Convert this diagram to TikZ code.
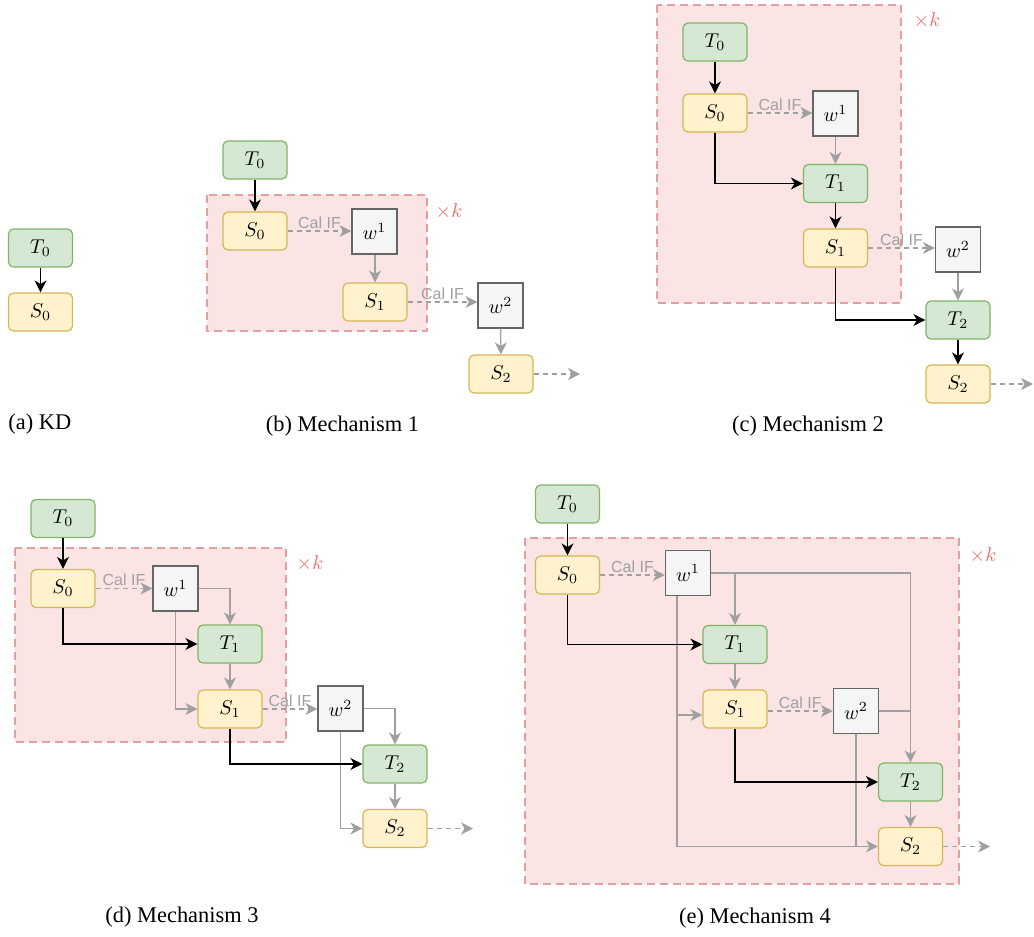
\documentclass[tikz,border=0pt]{standalone}
\usepackage{fontspec}
\setmainfont{Liberation Serif}
\setsansfont{Liberation Sans}
\usetikzlibrary{arrows.meta}
\definecolor{tfill}{HTML}{D5E8D4}
\definecolor{tline}{HTML}{82B366}
\definecolor{sfill}{HTML}{FFF2CC}
\definecolor{sline}{HTML}{D6B656}
\definecolor{wfill}{HTML}{F5F5F5}
\definecolor{wline}{HTML}{666666}
\definecolor{rfill}{HTML}{FAE4E4}
\definecolor{rline}{HTML}{E3A0A0}
\definecolor{kred}{HTML}{EA6B66}
\definecolor{arr}{HTML}{A0A0A0}
\tikzset{
  tbox/.style={draw=tline, fill=tfill, rounded corners=2.5pt, minimum width=32pt, minimum height=19pt, line width=0.6pt, inner sep=0pt, font=\fontsize{10}{11}\selectfont},
  sbox/.style={tbox, draw=sline, fill=sfill},
  wbox/.style={draw=wline, fill=wfill, minimum size=22.5pt, line width=0.6pt, inner sep=0pt, font=\fontsize{10}{11}\selectfont},
  loopregion/.style={draw=rline, fill=rfill, dash pattern=on 4pt off 2.5pt, line width=0.6pt},
  arrowtip/.style={-{Stealth[length=6pt,width=6pt,inset=1.8pt]}},
  blk/.style={arrowtip, line width=0.75pt},
  gry/.style={arrowtip, draw=arr, line width=0.65pt},
  gln/.style={draw=arr, line width=0.65pt},
  dsh/.style={gry, dash pattern=on 2.5pt off 2pt},
  calif/.style={midway, above, inner sep=1pt, text=arr, font=\sffamily\fontsize{8}{9}\selectfont},
  timesk/.style={text=kred, font=\fontsize{10}{11}\selectfont},
  captext/.style={inner sep=0pt, font=\fontsize{11.2}{13}\selectfont}
}
\begin{document}
\begin{tikzpicture}[x=0.5pt,y=-0.5pt]
  \useasboundingbox (0,0) rectangle (1034,937);

  % (a) KD
  \node[tbox] (aT0) at (40.5,248) {$T_0$};
  \node[sbox] (aS0) at (40.5,312) {$S_0$};
  \draw[blk] (aT0) -- (aS0);
  \node[captext,anchor=west] (acap) at (8,424) {(a) KD};

  % (b) Mechanism 1
  \draw[loopregion] (207,195) rectangle (427,331);
  \node[tbox] (bT0) at (255,160) {$T_0$};
  \node[sbox] (bS0) at (255,231) {$S_0$};
  \node[wbox] (bw1) at (374.5,231.5) {$w^1$};
  \node[sbox] (bS1) at (375,302) {$S_1$};
  \node[wbox] (bw2) at (500.5,305.5) {$w^2$};
  \node[sbox] (bS2) at (501,374) {$S_2$};
  \coordinate (bout) at (580,374);
  \node[timesk] (bk) at (449,211) {$\times k$};
  \draw[blk] (bT0) -- (bS0);
  \draw[dsh] (bS0.east) -- (bS0.east -| bw1.west) node[calif] {Cal IF};
  \draw[gry] (bw1.south -| bS1.north) -- (bS1.north);
  \draw[dsh] (bS1.east) -- (bS1.east -| bw2.west) node[calif] {Cal IF};
  \draw[gry] (bw2) -- (bS2);
  \draw[dsh] (bS2.east) -- (bout);
  \node[captext] (bcap) at (342.5,426) {(b) Mechanism 1};

  % (c) Mechanism 2
  \draw[loopregion] (657,5) rectangle (901,303);
  \node[tbox] (cT0) at (715,42) {$T_0$};
  \node[sbox] (cS0) at (715,113) {$S_0$};
  \node[wbox] (cw1) at (835.5,113.5) {$w^1$};
  \node[tbox] (cT1) at (835.5,183.5) {$T_1$};
  \node[sbox] (cS1) at (835.5,248) {$S_1$};
  \node[wbox] (cw2) at (958,249.5) {$w^2$};
  \node[tbox] (cT2) at (958,320) {$T_2$};
  \node[sbox] (cS2) at (958,384) {$S_2$};
  \coordinate (cout) at (1033,384);
  \node[timesk] (ck) at (927,20) {$\times k$};
  \draw[blk] (cT0) -- (cS0);
  \draw[dsh] (cS0.east) -- (cS0.east -| cw1.west) node[calif] {Cal IF};
  \draw[gry] (cw1) -- (cT1);
  \draw[blk] (cS0.south) |- (cT1.west);
  \draw[blk] (cT1) -- (cS1);
  \draw[dsh] (cS1.east) -- (cS1.east -| cw2.west) node[calif] {Cal IF};
  \draw[gry] (cw2) -- (cT2);
  \draw[blk] (cS1.south) |- (cT2.west);
  \draw[blk] (cT2) -- (cS2);
  \draw[dsh] (cS2.east) -- (cout);
  \node[captext] (ccap) at (808,426) {(c) Mechanism 2};

  % (d) Mechanism 3
  \draw[loopregion] (15,548) rectangle (286,742);
  \node[tbox] (dT0) at (63,518.5) {$T_0$};
  \node[sbox] (dS0) at (63,588.5) {$S_0$};
  \node[wbox] (dw1) at (175.5,588.5) {$w^1$};
  \node[tbox] (dT1) at (230,644) {$T_1$};
  \node[sbox] (dS1) at (230,709) {$S_1$};
  \node[wbox] (dw2) at (340.5,708.5) {$w^2$};
  \node[tbox] (dT2) at (395,764) {$T_2$};
  \node[sbox] (dS2) at (395,828.5) {$S_2$};
  \coordinate (dout) at (473,828.5);
  \node[timesk] (dk) at (310,563) {$\times k$};
  \draw[blk] (dT0) -- (dS0);
  \draw[dsh] (dS0.east) -- (dS0.east -| dw1.west) node[calif] {Cal IF};
  \draw[gry] (dw1.east) -| (dT1.north);
  \draw[gry] (dw1.south) |- (dS1.west);
  \draw[blk] (dS0.south) |- (dT1.west);
  \draw[gry] (dT1) -- (dS1);
  \draw[dsh] (dS1.east) -- (dS1.east -| dw2.west) node[calif] {Cal IF};
  \draw[gry] (dw2.east) -| (dT2.north);
  \draw[gry] (dw2.south) |- (dS2.west);
  \draw[blk] (dS1.south) |- (dT2.west);
  \draw[gry] (dT2) -- (dS2);
  \draw[dsh] (dS2.east) -- (dout);
  \node[captext] (dcap) at (182,917) {(d) Mechanism 3};

  % (e) Mechanism 4
  \draw[loopregion] (525,538) rectangle (959,884);
  \node[tbox] (eT0) at (567.5,504) {$T_0$};
  \node[sbox] (eS0) at (567.5,575) {$S_0$};
  \node[wbox] (ew1) at (688,573) {$w^1$};
  \node[tbox] (eT1) at (735,644.5) {$T_1$};
  \node[sbox] (eS1) at (735,709) {$S_1$};
  \node[wbox] (ew2) at (856,711) {$w^2$};
  \node[tbox] (eT2) at (910.5,782) {$T_2$};
  \node[sbox] (eS2) at (910.5,846.5) {$S_2$};
  \coordinate (eout) at (990,846.5);
  \coordinate (ew1b) at (677,596);
  \coordinate (eS1in) at ([yshift=-3pt]eS1.west);
  \node[timesk] (ek) at (983,555) {$\times k$};
  \draw[blk] (eT0) -- (eS0);
  \draw[dsh] (eS0.east) -- (eS0.east -| ew1.west) node[calif] {Cal IF};
  \draw[gry] (ew1.east) -| (eT2.north);
  \draw[gry] (eT1.north |- ew1.east) -- (eT1.north);
  \draw[gry] (ew1b) |- (eS2.west);
  \draw[gry] (ew1b |- eS1in) -- (eS1in);
  \draw[blk] (eS0.south) |- (eT1.west);
  \draw[gry] (eT1) -- (eS1);
  \draw[dsh] (eS1.east |- ew2.west) -- (ew2.west) node[calif] {Cal IF};
  \draw[gln] (ew2.east) -- (ew2.east -| eT2.north);
  \draw[gln] (ew2.south) -- (ew2.south |- eS2.west);
  \draw[blk] (eS1.south) |- (eT2.west);
  \draw[gry] (eT2) -- (eS2);
  \draw[dsh] (eS2.east) -- (eout);
  \node[captext] (ecap) at (755,918) {(e) Mechanism 4};
\end{tikzpicture}
\end{document}
